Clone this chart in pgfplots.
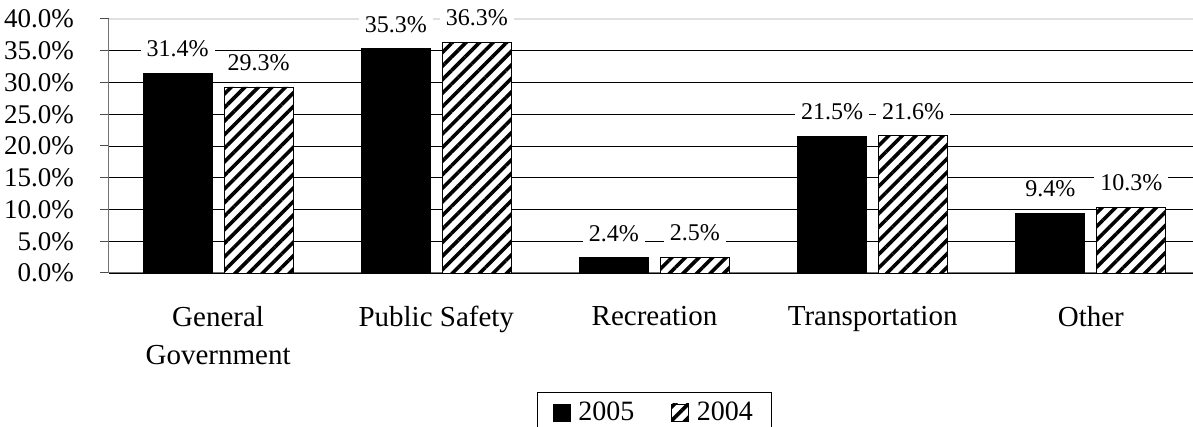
\documentclass[border=0pt]{standalone}
\usepackage{pgfplots}
\pgfplotsset{compat=1.18}
\usetikzlibrary{patterns.meta}
\usepackage{fontspec}
\setmainfont{Liberation Serif}

\pgfplotstableread{
x v2005 v2004
0 31.4 29.3
1 35.3 36.3
2 2.4 2.5
3 21.5 21.6
4 9.4 10.3
}\datatable

\begin{document}
\begin{tikzpicture}
\begin{axis}[
  scale only axis, width=1091pt, height=254pt,
  at={(0pt,0pt)}, anchor=south west,
  xmin=-0.5, xmax=4.5, ymin=0, ymax=40,
  ybar, bar width=69pt,
  clip=false,
  axis x line*=bottom, axis y line*=left,
  axis line style={draw=black!55, line width=1pt},
  tick align=outside,
  major tick length=9pt,
  ytick={0,5,...,40},
  yticklabels={0.0\%,5.0\%,10.0\%,15.0\%,20.0\%,25.0\%,30.0\%,35.0\%,40.0\%},
  yticklabel style={font=\fontsize{27}{30}\selectfont, inner sep=0pt, anchor=east, xshift=-26pt},
  ytick style={draw=black!70, line width=1pt},
  ymajorgrids, major grid style={draw=black, line width=0.9pt},
  xtick={0,1,2,3,4},
  xticklabels={General\\Government, Public Safety, Recreation, Transportation, Other},
  xticklabel style={font=\fontsize{29}{38}\selectfont, align=center, inner sep=0pt, yshift=-24pt},
  x tick style={draw=none},
  extra x ticks={-0.5,0.5,1.5,2.5,3.5,4.5},
  extra x tick labels={},
  extra x tick style={tick style={draw=black!55, line width=1pt}},
  /pgf/number format/assume math mode=true,
  nodes near coords={\pgfmathprintnumber[fixed,fixed zerofill,precision=1]{\pgfplotspointmeta}\%},
  nodes near coords style={font=\fontsize{24}{26}\selectfont, anchor=south, fill=white, inner xsep=6pt, inner ysep=2pt, yshift=14pt},
  legend style={at={(0.5,-0.468)}, anchor=north, legend columns=2, draw=black, line width=1pt,
    font=\fontsize{28}{32}\selectfont, inner xsep=16pt, inner ysep=10pt,
    nodes={inner xsep=3pt, inner ysep=0pt},
    /tikz/every even column/.append style={column sep=34pt}},
  legend image code/.code={\draw[#1, line width=0.8pt] (0pt,-8.5pt) rectangle (17pt,8.5pt);
     \node[draw=none, fill=none, inner sep=0pt, minimum size=0pt] at (22pt,0pt) {};},
]
\addplot[bar shift=-40.5pt, fill=black, draw=black, line width=0.8pt] table[x=x, y=v2005] {\datatable};
\addplot[bar shift=40.5pt, fill=white, draw=black, line width=0.8pt,
  postaction={pattern={Lines[angle=45, distance=9.6pt, line width=3.6pt]}}] table[x=x, y=v2004] {\datatable};
\legend{2005, 2004}
\draw[black!12, line width=1.2pt] (rel axis cs:0,1) -- (rel axis cs:1,1);
\end{axis}
\pgfresetboundingbox
\path (-109pt,-154pt) rectangle (1084pt,273pt);
\end{tikzpicture}
\end{document}
